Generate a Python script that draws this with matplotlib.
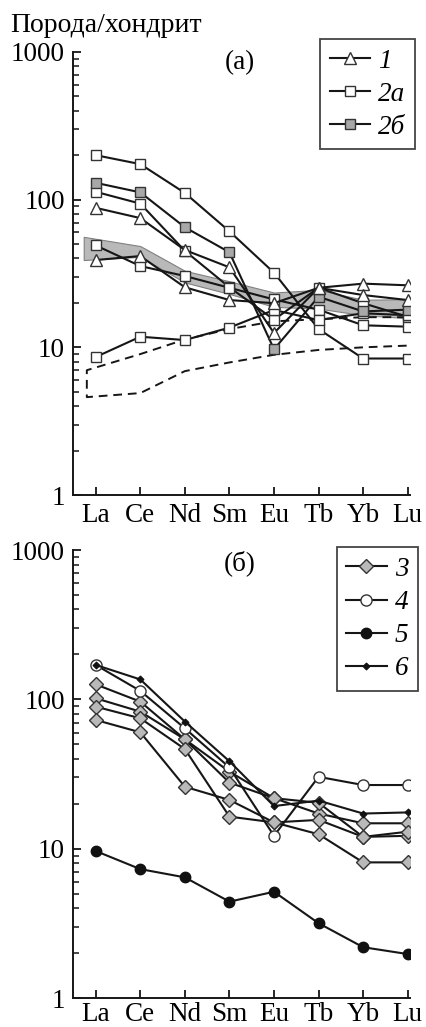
import matplotlib
matplotlib.use('Agg')
import matplotlib.pyplot as plt
import numpy as np
from matplotlib.ticker import LogLocator, NullFormatter

plt.rcParams['font.family'] = ['Liberation Serif', 'DejaVu Serif']

elements = ['La', 'Ce', 'Nd', 'Sm', 'Eu', 'Tb', 'Yb', 'Lu']

# ---- panel (a) ----
ser1 = [
    [88, 75, 45.6, 34.8, 12.5, 25.3, 27.0, 26.3],
    [39, 41.5, 25.5, 20.9, 19.9, 25.3, 22.6, 20.9],
]
ser2a = [
    [200, 174, 111, 61, 32, 13.3, 8.4, 8.4],
    [113, 94, 45, 25.5, 15.4, 25.3, 19.9, 16.1],
    [49, 35.5, 30.4, 25.3, 21.1, 18.0, 14.1, 13.8],
    [8.6, 11.8, 11.2, 13.6, 17.9, 15.3, 17.0, 16.5],
]
ser2b = [
    [130, 112, 65, 44, 9.7, 22.0, 17.5, 18.0],
]
band_x = [-0.27, 1, 2, 3, 4, 5, 6, 7.1]
band_hi = [56, 48.5, 33, 28, 23.5, 24.5, 21, 21.2]
band_lo = [39, 41, 27.5, 23, 18.8, 18.3, 16.5, 15.7]
field_x = [7.1, 7.1, 6, 5, 4, 3, 2, 1, -0.2, -0.2, 1, 2, 3, 4, 5, 6, 7.1]
field_y = [11.2, 16, 16, 15.5, 15.0, 13.3, 11.3, 9.0, 7.0, 4.6, 4.9, 6.9, 7.9, 8.9, 9.6, 10.0, 10.3]

# ---- panel (б) ----
ser3 = [
    [126, 96.6, 54, 32.8, 21.8, 17.2, 14.8, 14.8],
    [101.7, 82.8, 54, 27.7, 21.8, 20.3, 12.0, 12.2],
    [89.4, 74.7, 46.5, 16.4, 15.0, 15.6, 12.0, 13.0],
    [72.8, 60.2, 26, 21.2, 15.0, 12.5, 8.1, 8.1],
]
ser4 = [170, 114, 64, 35, 12.2, 30.3, 26.7, 26.7]
ser5 = [9.65, 7.3, 6.43, 4.42, 5.15, 3.17, 2.19, 1.97]
ser6 = [170, 136, 71, 38.5, 19.3, 21.0, 17.2, 17.5]

LC = '#161616'
GRAY = '#b9b9b9'
FS = 19.5
LW = 1.5
x = np.arange(len(elements))

fig = plt.figure(figsize=(4.27, 10.27), dpi=100)
ax1 = fig.add_axes([0.171, 0.518, 0.789, 0.4314])
ax2 = fig.add_axes([0.171, 0.0282, 0.789, 0.4362])


def setup(ax, xpad):
    ax.set_yscale('log')
    ax.set_ylim(1, 1000)
    ax.set_xlim(-0.51, 7.05)
    ax.set_xticks(x)
    ax.set_xticklabels(elements)
    ax.set_yticks([1, 10, 100, 1000])
    ax.set_yticklabels(['1', '10', '100', '1000'])
    ax.yaxis.set_minor_locator(LogLocator(base=10, subs=np.arange(2, 10)))
    ax.yaxis.set_minor_formatter(NullFormatter())
    for s in ['top', 'right']:
        ax.spines[s].set_visible(False)
    for s in ['left', 'bottom']:
        ax.spines[s].set_linewidth(1.4)
        ax.spines[s].set_color(LC)
    ax.tick_params(which='major', direction='in', length=6, width=1.3,
                   labelsize=FS, color=LC)
    ax.tick_params(axis='x', which='major', pad=xpad)
    ax.tick_params(axis='y', which='major', pad=6)
    ax.tick_params(which='minor', direction='in', length=4.5, width=1.1, color=LC)


setup(ax1, 5.5)
setup(ax2, 2.5)

# panel a
ax1.fill_between(band_x, band_lo, band_hi, facecolor=GRAY, edgecolor='#808080',
                 linewidth=0.8, zorder=1)
ax1.plot(field_x, field_y, linestyle=(0, (4.5, 3)), color=LC, linewidth=1.4, zorder=2)

h2a = None
for s in ser2a:
    h2a, = ax1.plot(x, s, '-s', color=LC, lw=LW, ms=7.5, mfc='white', mec='#333333',
                    mew=1.0, zorder=3)
h2b = None
for s in ser2b:
    h2b, = ax1.plot(x, s, '-s', color=LC, lw=LW, ms=7.5, mfc='#a8a8a8', mec='#333333',
                    mew=1.0, zorder=4)
h1 = None
for s in ser1:
    h1, = ax1.plot(x, s, '-^', color=LC, lw=LW, ms=9, mfc='white', mec='#333333',
                   mew=1.0, zorder=5)

ax1.text(0.496, 0.977, '(a)', transform=ax1.transAxes, ha='center', va='center',
         fontsize=FS)
leg1 = ax1.legend([h1, h2a, h2b], ['1', '2а', '2б'], loc='upper right',
                  bbox_to_anchor=(0.972, 0.962), bbox_transform=fig.transFigure,
                  borderaxespad=0, handlelength=1.5, handletextpad=0.3,
                  labelspacing=0.3, borderpad=0.35, frameon=True, fancybox=False,
                  prop={'style': 'italic', 'size': FS})
leg1.get_frame().set_edgecolor(LC)
leg1.get_frame().set_linewidth(1.3)

# panel b
h3 = None
for s in ser3:
    h3, = ax2.plot(x, s, '-D', color=LC, lw=LW, ms=6.8, mfc=GRAY, mec='#333333',
                   mew=1.0, zorder=3)
h4, = ax2.plot(x, ser4, '-o', color=LC, lw=LW, ms=8, mfc='white', mec='#333333',
               mew=1.0, zorder=4)
h5, = ax2.plot(x, ser5, '-o', color=LC, lw=LW, ms=7.5, mfc='#111111', mec='#111111',
               mew=1.0, zorder=4)
h6, = ax2.plot(x, ser6, '-D', color=LC, lw=LW, ms=3.5, mfc='#111111', mec='#111111',
               mew=0.8, zorder=5)

ax2.text(0.496, 0.971, '(б)', transform=ax2.transAxes, ha='center', va='center',
         fontsize=FS)
leg2 = ax2.legend([h3, h4, h5, h6], ['3', '4', '5', '6'], loc='upper right',
                  bbox_to_anchor=(0.979, 0.467), bbox_transform=fig.transFigure,
                  borderaxespad=0, handlelength=1.5, handletextpad=0.3,
                  labelspacing=0.3, borderpad=0.35, frameon=True, fancybox=False,
                  prop={'style': 'italic', 'size': FS})
leg2.get_frame().set_edgecolor(LC)
leg2.get_frame().set_linewidth(1.3)

fig.text(0.025, 0.975, 'Порода/хондрит', ha='left', va='center', fontsize=20)

fig.savefig('out.png', dpi=100)
